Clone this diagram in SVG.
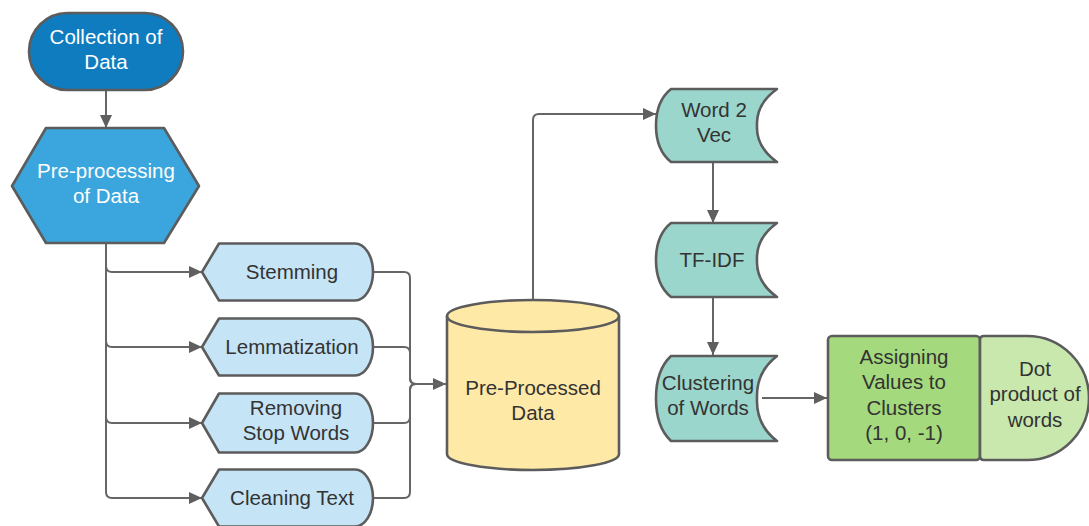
<svg xmlns="http://www.w3.org/2000/svg" width="1089" height="526" viewBox="0 0 1089 526">
  <defs>
    <marker id="arrow" markerUnits="userSpaceOnUse" markerWidth="14" markerHeight="12" refX="13" refY="6" orient="auto">
      <path d="M0,0 L13,6 L0,12 Z" fill="#5f5f5f"/>
    </marker>
    <style>
      .node { stroke: #5c5c5c; stroke-width: 2.6; stroke-linejoin: round; }
      .conn { fill: none; stroke: #666666; stroke-width: 2; }
      .lbl { font-family: "Liberation Sans", Arial, sans-serif; font-size: 20.5px; text-anchor: middle; fill: #333333; }
      .lbl.light { fill: #ffffff; }
      .dark-blue { fill: #0f7cbf; }
      .mid-blue { fill: #3ba5dd; }
      .pale-blue { fill: #c5e4f6; }
      .yellow { fill: #ffe9a6; }
      .teal { fill: #9bd6cc; }
      .green { fill: #a5d97d; }
      .pale-green { fill: #c8e8ad; }
    </style>
  </defs>

  <!-- connectors -->
  <g id="connectors">
    <path class="conn" d="M106,90 V128" marker-end="url(#arrow)"/>
    <path class="conn" d="M106,243 V266 Q106,272 112,272 H202" marker-end="url(#arrow)"/>
    <path class="conn" d="M106,243 V341 Q106,347 112,347 H202" marker-end="url(#arrow)"/>
    <path class="conn" d="M106,243 V417 Q106,423 112,423 H202" marker-end="url(#arrow)"/>
    <path class="conn" d="M106,243 V492 Q106,498 112,498 H202" marker-end="url(#arrow)"/>
    <path class="conn" d="M373,272 H404 Q410,272 410,278 V378 Q410,384 416,384 H446" marker-end="url(#arrow)"/>
    <path class="conn" d="M373,347 H404 Q410,347 410,353 V378 Q410,384 416,384 H446"/>
    <path class="conn" d="M373,423 H404 Q410,423 410,417 V390 Q410,384 416,384 H446"/>
    <path class="conn" d="M373,498 H404 Q410,498 410,492 V390 Q410,384 416,384 H446"/>
    <path class="conn" d="M533,300 V120 Q533,114 539,114 H656" marker-end="url(#arrow)"/>
    <path class="conn" d="M713,162 V223" marker-end="url(#arrow)"/>
    <path class="conn" d="M713,297 V355" marker-end="url(#arrow)"/>
    <path class="conn" d="M762,398 H827" marker-end="url(#arrow)"/>
  </g>

  <!-- collection of data -->
  <g id="collection">
    <rect class="node dark-blue" x="29" y="13" width="154" height="77" rx="38.5"/>
    <text class="lbl light" x="106" y="44">Collection of</text>
    <text class="lbl light" x="106" y="69">Data</text>
  </g>

  <!-- pre-processing -->
  <g id="preprocessing">
    <path class="node mid-blue" d="M12,186 L46,128 H164 L199,186 L164,243 H46 Z"/>
    <text class="lbl light" x="106" y="178">Pre-processing</text>
    <text class="lbl light" x="106" y="203">of Data</text>
  </g>

  <!-- cleaning steps -->
  <g id="stemming">
    <path class="node pale-blue" d="M202,272 L219,243.5 H355 A18,28.5 0 0 1 355,300.5 H219 Z"/>
    <text class="lbl" x="292" y="279">Stemming</text>
  </g>
  <g id="lemmatization">
    <path class="node pale-blue" d="M202,347 L219,318.5 H355 A18,28.5 0 0 1 355,375.5 H219 Z"/>
    <text class="lbl" x="292" y="354">Lemmatization</text>
  </g>
  <g id="stopwords">
    <path class="node pale-blue" d="M202,423 L219,393.5 H355 A18,29.5 0 0 1 355,452.5 H219 Z"/>
    <text class="lbl" x="296" y="415">Removing</text>
    <text class="lbl" x="296" y="440">Stop Words</text>
  </g>
  <g id="cleaning">
    <path class="node pale-blue" d="M202,498 L219,469.5 H355 A18,28.5 0 0 1 355,526.5 H219 Z"/>
    <text class="lbl" x="292" y="505">Cleaning Text</text>
  </g>

  <!-- pre-processed data store -->
  <g id="preprocessed">
    <path class="node yellow" d="M447,316 A86,16 0 0 1 619,316 V454 A86,16 0 0 1 447,454 Z"/>
    <path class="node" fill="none" d="M447,316 A86,16 0 0 0 619,316"/>
    <text class="lbl" x="533" y="395" fill="#222">Pre-Processed</text>
    <text class="lbl" x="533" y="420" fill="#222">Data</text>
  </g>

  <!-- feature extraction -->
  <g id="word2vec">
    <path class="node teal" d="M671,89 H777 Q756,104 757,125.5 Q756,147 777,162 H671 Q656,150 656,125.5 Q656,101 671,89 Z"/>
    <text class="lbl" x="714" y="117">Word 2</text>
    <text class="lbl" x="714" y="142">Vec</text>
  </g>
  <g id="tfidf">
    <path class="node teal" d="M671,223 H777 Q756,238 757,260 Q756,282 777,297 H671 Q656,285 656,260 Q656,235 671,223 Z"/>
    <text class="lbl" x="712" y="267">TF-IDF</text>
  </g>
  <g id="clustering">
    <path class="node teal" d="M671,356 H777 Q756,372 757,398.5 Q756,425 777,441 H671 Q656,427 656,398.5 Q656,370 671,356 Z"/>
    <text class="lbl" x="708" y="390">Clustering</text>
    <text class="lbl" x="708" y="415">of Words</text>
  </g>

  <!-- cluster scoring -->
  <g id="assigning">
    <rect class="node green" x="828" y="336" width="152" height="124" rx="4"/>
    <text class="lbl" x="904" y="364">Assigning</text>
    <text class="lbl" x="904" y="389">Values to</text>
    <text class="lbl" x="904" y="415">Clusters</text>
    <text class="lbl" x="904" y="440">(1, 0, -1)</text>
  </g>
  <g id="dotproduct">
    <path class="node pale-green" d="M984,336 H1027 A62,62 0 0 1 1027,460 H984 Q980,460 980,456 V340 Q980,336 984,336 Z"/>
    <text class="lbl" x="1035" y="376">Dot</text>
    <text class="lbl" x="1035" y="401">product of</text>
    <text class="lbl" x="1035" y="427">words</text>
  </g>
</svg>
